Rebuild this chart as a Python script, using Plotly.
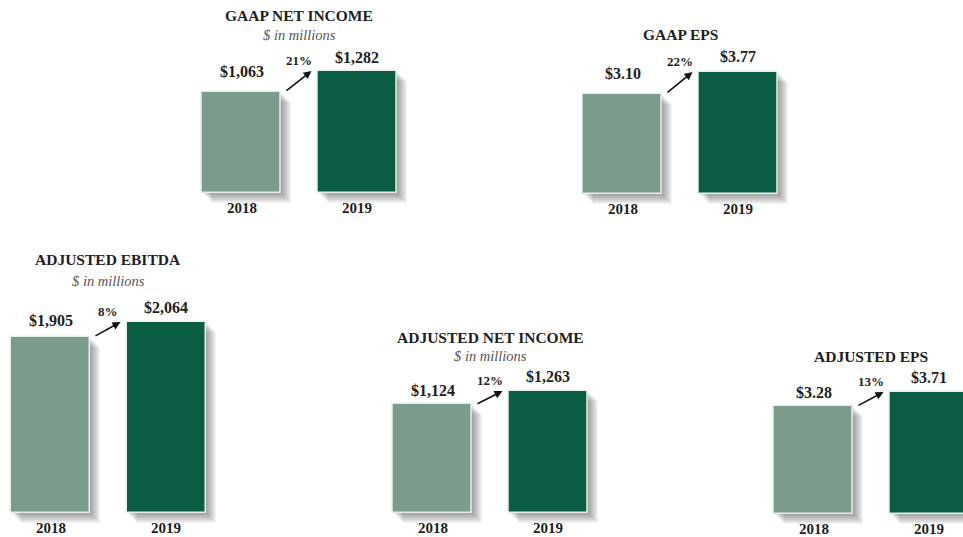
import plotly.graph_objects as go

W, H = 963, 537

titles = ["GAAP NET INCOME", "GAAP EPS", "ADJUSTED EBITDA", "ADJUSTED NET INCOME", "ADJUSTED EPS"]
subtitles = ["$ in millions", "", "$ in millions", "$ in millions", ""]
years = ["2018", "2019"]
values_2018 = [1063, 3.10, 1905, 1124, 3.28]
values_2019 = [1282, 3.77, 2064, 1263, 3.71]
labels_2018 = ["$1,063", "$3.10", "$1,905", "$1,124", "$3.28"]
labels_2019 = ["$1,282", "$3.77", "$2,064", "$1,263", "$3.71"]
growth = ["21%", "22%", "8%", "12%", "13%"]

# panel placement (px): left edge of 2018 bar, baseline, top of 2019 bar, title y, subtitle y
panels = [
    (202, 193, 71, 16, 35),
    (583, 194, 72, 35, None),
    (11, 513, 322, 260, 281),
    (393, 513, 391, 337, 356),
    (774, 514, 392, 356, None),
]
# gap (px) between bar top and its value label, per panel: (2018, 2019)
label_gaps = [(10, 3), (10, 5), (6, 4), (3, 4), (3, 4)]
PITCH = 115.5
BAR_W = 79
PAD = 12
COLORS = ["#7b9b8b", "#0b5c44"]
SERIF = "Liberation Serif"
INK = "#1e1e1e"

fig = go.Figure()
layout = {}
annotations = []

for i, (left, base_px, top_px, title_y, sub_y) in enumerate(panels):
    n = "" if i == 0 else str(i + 1)
    xa, ya = "x" + n, "y" + n
    vals = [values_2018[i], values_2019[i]]
    scale = (base_px - top_px) / values_2019[i]  # px per unit

    # x domain: centre of 2018 bar is x=0, pitch PITCH px
    c0 = left + BAR_W / 2
    d0, d1 = c0 - PITCH / 2, c0 + 1.5 * PITCH
    r0, r1 = -0.5, 1.5
    if d0 < 0:
        r0 += -d0 / PITCH
        d0 = 0
    if d1 > W:
        r1 -= (d1 - W) / PITCH
        d1 = W
    dom_top = top_px - 8
    layout["xaxis" + n] = dict(domain=[d0 / W, d1 / W], range=[r0, r1], anchor=ya,
                               visible=False, fixedrange=True)
    layout["yaxis" + n] = dict(domain=[1 - (base_px + PAD) / H, 1 - dom_top / H],
                               range=[-PAD / scale, (base_px - dom_top) / scale],
                               anchor=xa, visible=False, fixedrange=True)

    # soft drop shadow
    for k in range(1, 11):
        fig.add_trace(go.Bar(x=[0 + k / PITCH, 1 + k / PITCH], y=vals, base=[-k / scale] * 2,
                             width=BAR_W / PITCH, marker=dict(color="rgba(60,60,60,0.055)", line_width=0),
                             xaxis=xa, yaxis=ya, hoverinfo="skip", showlegend=False))
    fig.add_trace(go.Bar(x=[0, 1], y=vals, width=BAR_W / PITCH,
                         marker=dict(color=COLORS, line=dict(color="#e6efea", width=1.5)),
                         xaxis=xa, yaxis=ya, showlegend=False))

    cx = (c0 + 0.5 * PITCH) / W
    annotations.append(dict(xref="paper", yref="paper", x=cx, y=1 - title_y / H, text=titles[i],
                            showarrow=False, xanchor="center", yanchor="middle",
                            font=dict(family=SERIF, size=15.5, color=INK, weight="bold")))
    if sub_y:
        annotations.append(dict(xref="paper", yref="paper", x=cx, y=1 - sub_y / H, text=subtitles[i],
                                showarrow=False, xanchor="center", yanchor="middle",
                                font=dict(family=SERIF, size=14.5, color="#555", style="italic")))
    for j, (v, lab) in enumerate(zip(vals, [labels_2018[i], labels_2019[i]])):
        annotations.append(dict(xref=xa, yref=ya, x=j, y=v, text=lab, showarrow=False,
                                xanchor="center", yanchor="bottom", yshift=label_gaps[i][j],
                                font=dict(family=SERIF, size=16, color=INK, weight="bold")))
        annotations.append(dict(xref=xa, yref=ya, x=j, y=0, text=years[j], showarrow=False,
                                xanchor="center", yanchor="middle", yshift=-15,
                                font=dict(family=SERIF, size=15, color=INK, weight="bold")))
    # growth arrow and label
    half = BAR_W / 2 / PITCH
    annotations.append(dict(xref=xa, yref=ya, axref=xa, ayref=ya,
                            x=1 - half - 6 / PITCH, y=vals[1],
                            ax=half + 4 / PITCH, ay=vals[0],
                            text="", showarrow=True, arrowhead=2, arrowsize=1,
                            arrowwidth=1.6, arrowcolor="#111"))
    annotations.append(dict(xref=xa, yref=ya, x=0.5, y=vals[1], text=growth[i], showarrow=False,
                            xanchor="center", yanchor="middle", yshift=11,
                            font=dict(family=SERIF, size=13, color=INK, weight="bold")))

fig.update_layout(
    width=W, height=H, margin=dict(l=0, r=0, t=0, b=0),
    paper_bgcolor="white", plot_bgcolor="rgba(0,0,0,0)",
    barmode="overlay", bargap=0, annotations=annotations, **layout,
)
fig.write_html("out.html", config={"displayModeBar": False},
               post_script="document.body.style.margin = '0';")
